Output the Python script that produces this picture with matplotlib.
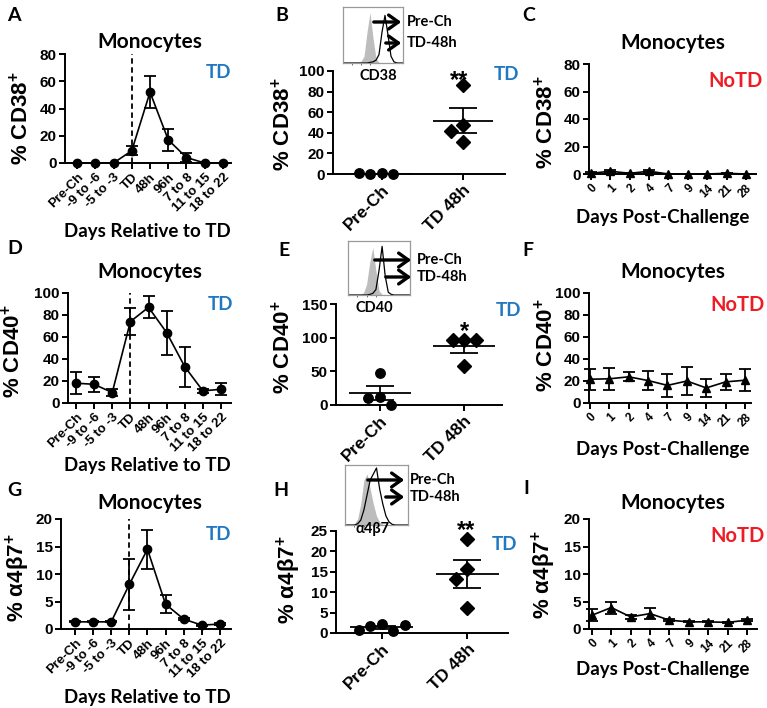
import matplotlib
matplotlib.use('Agg')
import matplotlib.pyplot as plt
import numpy as np

plt.rcParams['font.family'] = ['Liberation Sans', 'DejaVu Sans']
plt.rcParams['font.weight'] = 'bold'
plt.rcParams['mathtext.fontset'] = 'custom'
plt.rcParams['mathtext.rm'] = 'Liberation Sans:bold'
plt.rcParams['mathtext.bf'] = 'Liberation Sans:bold'

W, H = 767, 708
CAL = ['Lato', 'DejaVu Sans']   # stand-in for Calibri
BLUE = '#1f78c1'
RED = '#ee1c25'

# ---- data ----
time_labels = ['Pre-Ch', '-9 to -6', '-5 to -3', 'TD', '48h', '96h', '7 to 8', '11 to 15', '18 to 22']
day_labels = ['0', '1', '2', '4', '7', '9', '14', '21', '28']
group_labels = ['Pre-Ch', 'TD 48h']

cd38_td_mean = [0, 0, 0, 9, 52, 17, 4, 0, 0]
cd38_td_sem = [0, 0, 0, 3.4, 11.7, 8.2, 3, 0, 0]
cd38_pre = [0.5, 0, 0, 0.5]
cd38_48h = [86, 48, 42, 31]
cd38_notd_mean = [0.5, 2, 0.5, 2, 0, 0, 0, 0.5, 0]
cd38_notd_sem = [0.8, 1, 0.5, 1, 0.3, 0.3, 0.3, 0.5, 0.3]

cd40_td_mean = [18, 17, 9.5, 74, 87, 64, 33, 11, 12.5]
cd40_td_sem = [10, 7, 3.5, 12, 10, 20, 18, 1.5, 5.3]
cd40_pre = [48, 12, 10, 0]
cd40_48h = [97, 97, 97, 58]
cd40_notd_mean = [21.6, 22, 23.8, 20.4, 16, 20, 13.7, 19.2, 20.7]
cd40_notd_sem = [9.5, 10.2, 4, 9, 10.8, 12.4, 8.5, 7, 10]

a4b7_td_mean = [1.3, 1.3, 1.3, 8.1, 14.5, 4.5, 1.8, 0.7, 0.9]
a4b7_td_sem = [0.1, 0.1, 0.1, 4.6, 3.5, 1.6, 0.2, 0.1, 0.2]
a4b7_pre = [2.3, 1.6, 0.5, 0.65, 2.0]
a4b7_48h = [23, 15.6, 13.2, 6.1]
a4b7_notd_mean = [2.5, 3.9, 2.2, 2.8, 1.6, 1.3, 1.3, 1.2, 1.6]
a4b7_notd_sem = [1.1, 1.1, 0.3, 1.0, 0.2, 0.1, 0.1, 0.1, 0.2]

# flow histograms (inset), pre-challenge filled / TD-48h outline
cd38_hist_pre = [0, 0, 0, 0, 0, 0.01, 0.03, 0.12, 0.55, 0.9, 0.45, 0.08, 0.01, 0, 0, 0, 0, 0, 0, 0, 0]
cd38_hist_td = [0, 0, 0, 0, 0, 0, 0, 0, 0, 0.01, 0.02, 0.05, 0.15, 0.55, 0.85, 0.5, 0.12, 0.02, 0, 0, 0]
cd40_hist_pre = [0, 0, 0, 0, 0.01, 0.04, 0.2, 0.6, 0.88, 0.45, 0.08, 0.01, 0, 0, 0, 0, 0, 0, 0, 0, 0]
cd40_hist_td = [0, 0, 0, 0, 0, 0, 0, 0.01, 0.03, 0.1, 0.45, 0.9, 0.35, 0.05, 0.01, 0, 0, 0, 0, 0, 0]
a4b7_hist_pre = [0, 0, 0, 0.02, 0.1, 0.35, 0.75, 0.85, 0.6, 0.35, 0.15, 0.05, 0.01, 0, 0, 0, 0, 0, 0, 0, 0]
a4b7_hist_td = [0, 0, 0, 0, 0.02, 0.08, 0.25, 0.5, 0.75, 0.85, 0.95, 0.6, 0.35, 0.15, 0.05, 0.01, 0, 0, 0, 0, 0]

fig = plt.figure(figsize=(W / 100, H / 100), dpi=100)


def px(x0, y0, x1, y1):
    return [x0 / W, 1 - y1 / H, (x1 - x0) / W, (y1 - y0) / H]


def ftext(x, y, s, **kw):
    fig.text(x / W, 1 - y / H, s, **kw)


def style(ax, ymax, ystep, xlim, lab, lab_xy):
    for s in ['top', 'right']:
        ax.spines[s].set_visible(False)
    for s in ['left', 'bottom']:
        ax.spines[s].set_linewidth(1.4)
    ax.tick_params(width=1.4, length=4, labelsize=11, pad=2)
    ax.set_ylim(0, ymax)
    ax.set_yticks(np.arange(0, ymax + 0.1, ystep))
    ax.set_xlim(*xlim)
    ax.set_ylabel(lab, fontsize=16, fontweight='bold')
    ax.yaxis.set_label_coords(*lab_xy)


def time_panel(box, mean, sem, marker, labels, ymax, ystep, xlim, lab, lab_xy, tdline, xsize):
    ax = fig.add_axes(px(*box))
    eb = ax.errorbar(range(9), mean, yerr=sem, fmt='-' + marker, color='k', ms=6 if marker == 'o' else 5.5,
                     lw=1.2, elinewidth=1.3, capsize=4.3, capthick=1.3)
    for a in eb.get_children():
        a.set_clip_on(False)
    if tdline:
        ax.axvline(3, ls=(0, (3, 2)), color='k', lw=1.3)
    style(ax, ymax, ystep, xlim, lab, lab_xy)
    ax.set_xticks(range(9))
    ax.set_xticklabels(labels, rotation=45, ha='right', rotation_mode='anchor', fontsize=xsize)
    return ax


def swarm(vals, ppu_y, step, diam=10.5):
    placed, offs = [], []
    for v in vals:
        y = v * ppu_y
        for k in [0, -1, 1, -2, 2, -3, 3]:
            x = k * step
            if all((x - a) ** 2 + (y - b) ** 2 >= diam ** 2 for a, b in placed):
                break
        placed.append((x, y))
        offs.append(x)
    return np.array(offs)


def group_panel(box, groups, markers, ymax, ystep, xlim, lab, lab_xy):
    ax = fig.add_axes(px(*box))
    wpx = box[2] - box[0]
    hpx = box[3] - box[1]
    ppu_x = wpx / (xlim[1] - xlim[0])
    for i, (vals, mk) in enumerate(zip(groups, markers)):
        offs = swarm(vals, hpx / ymax, 11.5) / ppu_x
        ax.plot(i + offs, vals, mk, color='k', ms=6.8 if mk == 'o' else 7, ls='none', clip_on=False, zorder=3)
        m = np.mean(vals)
        s = np.std(vals, ddof=1) / np.sqrt(len(vals))
        ax.hlines(m, i - 0.37, i + 0.37, color='k', lw=1.3, zorder=4)
        ax.errorbar(i, m, yerr=s, fmt='none', ecolor='k', elinewidth=1.3, capsize=10, capthick=1.3, zorder=4)
    style(ax, ymax, ystep, xlim, lab, lab_xy)
    ax.set_xticks([0, 1])
    ax.set_xticklabels(group_labels, rotation=45, ha='right', rotation_mode='anchor', fontsize=12.5)
    return ax


def inset(box, pre, td, name, name_xy, arrows, lab_x):
    ax = fig.add_axes(px(*box))
    x = np.linspace(0, 1, len(pre))
    ax.fill_between(x, pre, color='#bdbdbd', lw=0)
    ax.plot(x, td, color='k', lw=0.9)
    ax.set_xlim(0, 1)
    ax.set_ylim(0, 1)
    for s in ax.spines.values():
        s.set_color('#9a9a9a')
        s.set_linewidth(0.9)
    ax.set_yticks([])
    ax.set_xticks([0.15, 0.3, 0.45])
    ax.set_xticklabels([])
    ax.tick_params(axis='x', length=1.5, width=0.6, color='#555555')
    for (x0, x1, y), txt in zip(arrows, ['Pre-Ch', 'TD-48h']):
        fig.add_artist(matplotlib.patches.FancyArrowPatch(
            (x0 / W, 1 - y / H), (x1 / W, 1 - y / H), transform=fig.transFigure,
            arrowstyle='->,head_length=7,head_width=5', lw=2.4, color='k', mutation_scale=1))
        ftext(lab_x, y, txt, family=CAL, fontsize=10.5, fontweight='bold', va='center', ha='left')
    ftext(name_xy[0], name_xy[1], name, family=CAL, fontsize=10.5, fontweight='bold', va='center', ha='center')


lab38 = r'% CD38$^{+}$'
lab40 = r'% CD40$^{+}$'
lab47 = r'% α4β7$^{+}$'

# row 1
time_panel((65, 54, 231, 163), cd38_td_mean, cd38_td_sem, 'o', time_labels, 80, 20, (-0.66, 8.44),
           lab38, (-0.193, 0.413), True, 9.5)
group_panel((333, 71, 505, 174), [cd38_pre, cd38_48h], ['o', 'D'], 100, 20, (-0.6, 1.52), lab38, (-0.221, 0.485))
time_panel((589, 64, 756, 174), cd38_notd_mean, cd38_notd_sem, '^', day_labels, 80, 20, (-0.1, 8.52),
           lab38, (-0.186, 0.47), False, 8.5)

# row 2
time_panel((68, 293, 231, 403), cd40_td_mean, cd40_td_sem, 'o', time_labels, 100, 20, (-0.44, 8.55),
           lab40, (-0.263, 0.47), True, 9.5)
group_panel((336, 304, 502, 405), [cd40_pre, cd40_48h], ['o', 'D'], 150, 50, (-0.52, 1.45), lab40, (-0.247, 0.574))
time_panel((589, 293, 751, 403), cd40_notd_mean, cd40_notd_sem, '^', day_labels, 100, 20, (-0.05, 8.31),
           lab40, (-0.191, 0.527), False, 8.5)

# row 3
time_panel((61, 519, 231, 629), a4b7_td_mean, a4b7_td_sem, 'o', time_labels, 20, 5, (-0.77, 8.61),
           lab47, (-0.171, 0.464), True, 9.5)
group_panel((336, 531, 508, 633), [a4b7_pre, a4b7_48h], ['o', 'D'], 25, 5, (-0.54, 1.48), lab47, (-0.191, 0.52))
time_panel((589, 519, 757, 629), a4b7_notd_mean, a4b7_notd_sem, '^', day_labels, 20, 5, (-0.15, 8.52),
           lab47, (-0.186, 0.49), False, 8.5)

# insets
inset((343, 7, 403, 63), cd38_hist_pre, cd38_hist_td, 'CD38', (378, 76), [(371, 404, 22), (383, 404, 43)], 407)
inset((348, 241, 410, 295), cd40_hist_pre, cd40_hist_td, 'CD40', (374, 308), [(372, 414, 260), (383, 414, 277)], 417)
inset((345, 465, 408, 525), a4b7_hist_pre, a4b7_hist_td, 'α4β7', (372, 529), [(365, 407, 480), (383, 407, 497)], 410)

# titles / axis texts
for x, y in [(150, 42), (673, 43), (150, 272), (673, 272), (150, 503), (673, 503)]:
    ftext(x, y, 'Monocytes', family=CAL, fontsize=15, fontweight='bold', ha='center', va='center')
for y in [232, 465, 697]:
    ftext(147, y, 'Days Relative to TD', family=CAL, fontsize=13.5, fontweight='bold', ha='center', va='center')
for y in [218, 450, 670]:
    ftext(663, y, 'Days Post-Challenge', family=CAL, fontsize=13.5, fontweight='bold', ha='center', va='center')
for x, y in [(219, 73), (506, 75), (221, 305), (509, 311), (219, 535), (505, 545)]:
    ftext(x, y, 'TD', family=CAL, fontsize=13.5, fontweight='bold', color=BLUE, ha='center', va='center')
for x, y in [(736, 81), (737, 305), (737, 536)]:
    ftext(x, y, 'NoTD', family=CAL, fontsize=14.5, fontweight='bold', color=RED, ha='center', va='center')
for x, y, s in [(459, 69, '**'), (465, 320, '*'), (466, 519, '**')]:
    ftext(x, y, s, fontsize=17, fontweight='bold', ha='center', va='top')
for x, y, s in [(7, 7, 'A'), (275, 7, 'B'), (522, 7, 'C'), (7, 240, 'D'), (278, 242, 'E'), (522, 242, 'F'),
                (7, 482, 'G'), (273, 482, 'H'), (523, 480, 'I')]:
    ftext(x, y, s, family=CAL, fontsize=14, fontweight='bold', ha='left', va='top')

fig.savefig('out.png', dpi=100)
